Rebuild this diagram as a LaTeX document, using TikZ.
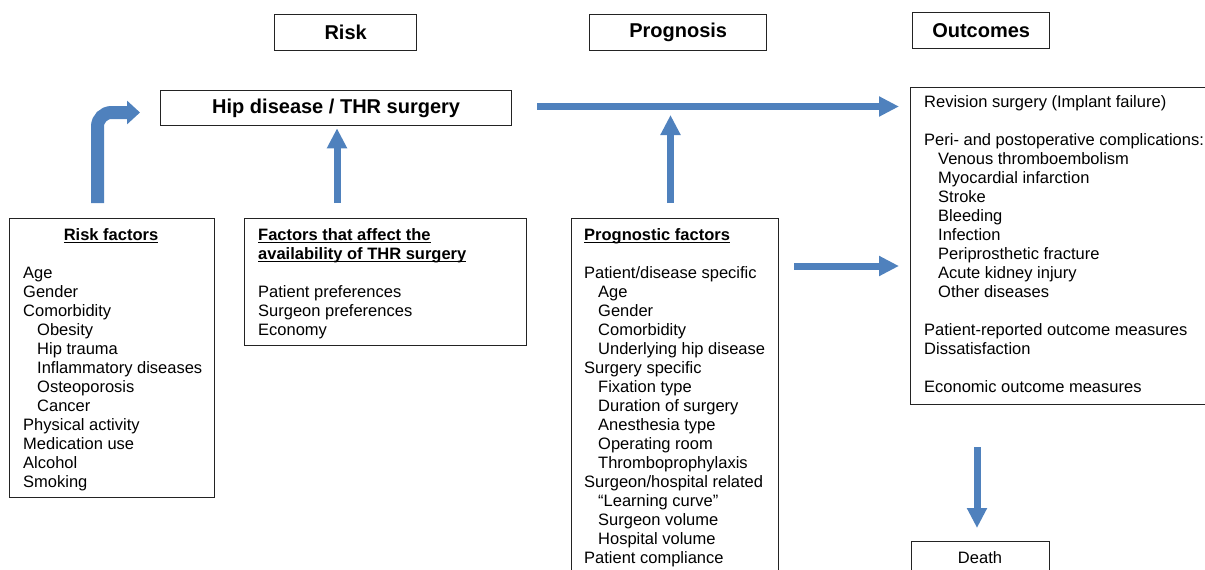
\documentclass[tikz,border=0pt]{standalone}
\usepackage{fontspec}
\setmainfont{Liberation Sans}
\usetikzlibrary{arrows.meta,calc}
\definecolor{arrowblue}{RGB}{79,129,189}
\definecolor{boxline}{RGB}{35,35,35}
\newcommand{\ind}{\hspace*{14pt}}
\newsavebox\ulbox
\newcommand{\myul}[1]{\sbox\ulbox{#1}\rlap{\rule[-2.6pt]{\wd\ulbox}{1.1pt}}\usebox\ulbox}
\begin{document}
\begin{tikzpicture}[x=1pt,y=-1pt,
  box/.style={draw=boxline, line width=1.3pt, inner sep=0pt, anchor=north west},
  hdr/.style={font=\fontsize{20}{23}\selectfont\bfseries},
  txt/.style={inner sep=0pt, anchor=base west, align=left, font=\fontsize{16.5}{19}\selectfont},
  ttl/.style={inner sep=0pt, anchor=base west, align=left, font=\fontsize{16.5}{19}\selectfont\bfseries},
  flow/.style={draw=arrowblue, line width=7pt, -{Triangle[width=19pt,length=20pt]}},
  bigflow/.style={draw=arrowblue, line width=13pt, rounded corners=14pt, -{Triangle[width=23pt,length=13pt]}}
]
\useasboundingbox (0,0) rectangle (1205,570);
\clip (0,0) rectangle (1205,570);

% header boxes
\node[box, hdr, minimum width=177pt, minimum height=36pt] (proghdr) at (589,14) {Prognosis};
\node[box, hdr, minimum width=142pt, minimum height=36pt] (riskhdr) at (274,14) {Risk};
\node[box, hdr, minimum width=137pt, minimum height=36pt] (outhdr) at (912,12) {Outcomes};
\node[box, hdr, minimum width=351pt, minimum height=35pt] (hip) at (160,90) {Hip disease / THR surgery};

% content boxes
\node[box, minimum width=205pt, minimum height=279pt] (rfbox) at (9,218) {};
\node[box, minimum width=282pt, minimum height=127pt] (avbox) at (244,218) {};
\node[box, minimum width=207pt, minimum height=380pt] (pfbox) at (571,218) {};
\node[box, minimum width=320pt, minimum height=317pt] (outbox) at (910,87) {};
\node[box, minimum width=138pt, minimum height=60pt] (deathbox) at (911,541) {};

% risk factors (base anchors sit on the last line)
\node[ttl, anchor=base] (rft) at (111,240) {\myul{Risk factors}};
\node[txt] (rfl) at (23,487) {Age\\Gender\\Comorbidity\\\ind Obesity\\\ind Hip trauma\\\ind Inflammatory diseases\\\ind Osteoporosis\\\ind Cancer\\Physical activity\\Medication use\\Alcohol\\Smoking};

% availability
\node[ttl] (avt) at (258,259) {\myul{Factors that affect the}\\\myul{availability of THR surgery}};
\node[txt] (avl) at (258,335) {Patient preferences\\Surgeon preferences\\Economy};

% prognostic factors
\node[ttl] (pft) at (584,240) {\myul{Prognostic factors}};
\node[txt] (pfl) at (584,563) {Patient/disease specific\\\ind Age\\\ind Gender\\\ind Comorbidity\\\ind Underlying hip disease\\Surgery specific\\\ind Fixation type\\\ind Duration of surgery\\\ind Anesthesia type\\\ind Operating room\\\ind Thromboprophylaxis\\Surgeon/hospital related\\\ind ``Learning curve''\\\ind Surgeon volume\\\ind Hospital volume\\Patient compliance};

% outcomes
\node[txt] (outl) at (924,392) {Revision surgery (Implant failure)\\[19pt]Peri- and postoperative complications:\\\ind Venous thromboembolism\\\ind Myocardial infarction\\\ind Stroke\\\ind Bleeding\\\ind Infection\\\ind Periprosthetic fracture\\\ind Acute kidney injury\\\ind Other diseases\\[19pt]Patient-reported outcome measures\\Dissatisfaction\\[19pt]Economic outcome measures};

% death
\node[txt, anchor=base] (deatht) at (980,563) {Death};

% arrows
\coordinate (c1) at (97.5,203);
\coordinate (c1e) at (140,112.5);
\draw[bigflow] (c1) |- (c1e);

\coordinate (c2) at (337,203);
\draw[flow] (c2) -- ([yshift=-2pt]c2 |- hip.south);

\coordinate (c3s) at (537,106.5);
\coordinate (c3e) at (899,106.5);
\draw[flow] (c3s) -- (c3e);

\coordinate (c4) at (670.5,203);
\coordinate (c4e) at (670.5,115);
\draw[flow] (c4) -- (c4e);

\coordinate (c5s) at (794,266);
\draw[flow] (c5s) -- ([xshift=-11pt]c5s -| outbox.west);

\coordinate (c6s) at (977,447);
\draw[flow] (c6s) -- ([yshift=13pt]c6s |- deathbox.north);
\end{tikzpicture}
\end{document}
